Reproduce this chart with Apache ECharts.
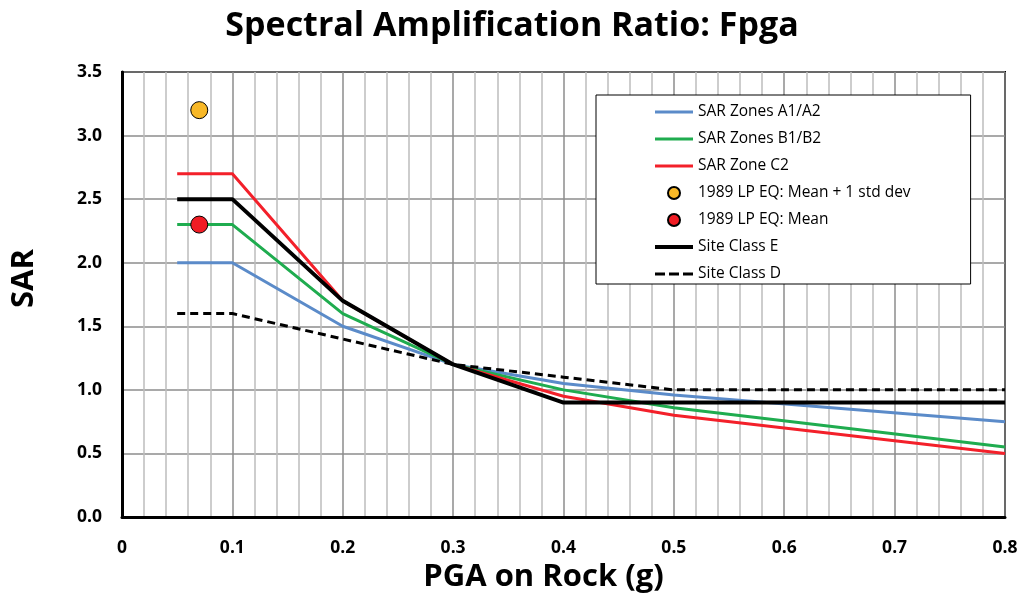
<!DOCTYPE html>
<html>
<head>
<meta charset="utf-8">
<script src="https://cdn.jsdelivr.net/npm/echarts@6/dist/echarts.min.js"></script>
<style>
  html, body { margin: 0; padding: 0; background: #fff; }
  #chart { width: 1024px; height: 609px; }
</style>
</head>
<body>
<div id="chart"></div>
<script>
// PGA on rock (g)
var pgaZones = [0.05, 0.1, 0.2, 0.3, 0.4, 0.5, 0.8];
var sarA = [2.0, 2.0, 1.5, 1.2, 1.05, 0.96, 0.75];
var sarB = [2.3, 2.3, 1.6, 1.2, 1.0, 0.86, 0.55];
var sarC = [2.7, 2.7, 1.7, 1.2, 0.95, 0.8, 0.5];

var pgaSite = [0.05, 0.1, 0.2, 0.3, 0.4, 0.5, 0.8];
var siteE = [2.5, 2.5, 1.7, 1.2, 0.9, 0.9, 0.9];
var siteD = [1.6, 1.6, 1.4, 1.2, 1.1, 1.0, 1.0];

// 1989 Loma Prieta points
var eqPga = [0.07];
var eqMeanStd = [3.2];
var eqMean = [2.3];

function pairs(xs, ys) {
    var out = [];
    for (var i = 0; i < xs.length; i++) {
        out.push([xs[i], ys[i]]);
    }
    return out;
}

// legend icons drawn as plain strokes (no marker on the line)
var solidIcon = 'path://M0,0h38v3h-38z';
var thickIcon = 'path://M0,0h38v4h-38z';
var dashIcon = 'path://M0,0h10v3h-10z M14,0h10v3h-10z M28,0h10v3h-10z';

var font = '"Open Sans", Lato, sans-serif';
var chart = echarts.init(document.getElementById('chart'));

chart.setOption({
    animation: false,
    textStyle: { fontFamily: font, color: '#000' },
    title: {
        text: 'Spectral Amplification Ratio: Fpga',
        left: 'center',
        top: 4,
        textStyle: { fontFamily: font, fontSize: 34, fontWeight: 'bold', color: '#000' }
    },
    grid: {
        left: 122, right: 19, top: 72, bottom: 92,
        show: true,
        borderColor: '#000',
        borderWidth: 2
    },
    legend: {
        orient: 'vertical',
        left: 596,
        top: 95,
        backgroundColor: '#fff',
        borderColor: '#000',
        borderWidth: 1,
        padding: [9, 60, 2, 59],
        itemWidth: 38,
        itemHeight: 12,
        itemGap: 11,
        textStyle: { fontFamily: font, fontSize: 15.5, lineHeight: 15, color: '#000' },
        data: [
            { name: 'SAR Zones A1/A2', icon: solidIcon },
            { name: 'SAR Zones B1/B2', icon: solidIcon },
            { name: 'SAR Zone C2', icon: solidIcon },
            { name: '1989 LP EQ: Mean + 1 std dev' },
            { name: '1989 LP EQ: Mean' },
            { name: 'Site Class E', icon: thickIcon },
            { name: 'Site Class D', icon: dashIcon }
        ]
    },
    xAxis: {
        type: 'value',
        min: 0,
        max: 0.8,
        interval: 0.1,
        name: 'PGA on Rock (g)',
        nameLocation: 'middle',
        nameGap: 34,
        nameTextStyle: {
            fontFamily: font, fontSize: 31, fontWeight: 'bold', color: '#000',
            padding: [0, 40, 0, 0]
        },
        axisLine: { lineStyle: { color: '#000', width: 3 } },
        axisTick: { show: false },
        axisLabel: {
            margin: 22,
            fontSize: 17.5,
            fontWeight: 'bold',
            color: '#000',
            formatter: function (v) { return v === 0 ? '0' : v.toFixed(1); }
        },
        splitLine: { show: true, lineStyle: { color: '#8c8c8c', width: 1.5 } },
        minorTick: { show: false, splitNumber: 5 },
        minorSplitLine: { show: true, lineStyle: { color: '#bdbdbd', width: 1.5 } }
    },
    yAxis: {
        type: 'value',
        min: 0,
        max: 3.5,
        interval: 0.5,
        name: 'SAR',
        nameLocation: 'middle',
        nameGap: 82,
        nameTextStyle: {
            fontFamily: font, fontSize: 31, fontWeight: 'bold', color: '#000',
            padding: [0, 0, 0, 32]
        },
        axisLine: { show: true, lineStyle: { color: '#000', width: 3 } },
        axisTick: { show: false },
        axisLabel: {
            margin: 20,
            fontSize: 17.5,
            fontWeight: 'bold',
            color: '#000',
            formatter: function (v) { return v.toFixed(1); }
        },
        splitLine: { show: true, lineStyle: { color: '#8c8c8c', width: 1.5 } }
    },
    series: [{
        name: 'SAR Zones A1/A2',
        type: 'line',
        data: pairs(pgaZones, sarA),
        symbol: 'none',
        color: '#5b8bc9',
        lineStyle: { color: '#5b8bc9', width: 3 }
    }, {
        name: 'SAR Zones B1/B2',
        type: 'line',
        data: pairs(pgaZones, sarB),
        symbol: 'none',
        color: '#1fac4f',
        lineStyle: { color: '#1fac4f', width: 3 }
    }, {
        name: 'SAR Zone C2',
        type: 'line',
        data: pairs(pgaZones, sarC),
        symbol: 'none',
        color: '#f3202a',
        lineStyle: { color: '#f3202a', width: 3 }
    }, {
        name: '1989 LP EQ: Mean + 1 std dev',
        type: 'scatter',
        data: pairs(eqPga, eqMeanStd),
        symbolSize: 17,
        z: 5,
        itemStyle: { color: '#f8b827', borderColor: '#000', borderWidth: 1, opacity: 1 }
    }, {
        name: '1989 LP EQ: Mean',
        type: 'scatter',
        data: pairs(eqPga, eqMean),
        symbolSize: 17,
        z: 5,
        itemStyle: { color: '#f01c24', borderColor: '#000', borderWidth: 1, opacity: 1 }
    }, {
        name: 'Site Class E',
        type: 'line',
        data: pairs(pgaSite, siteE),
        symbol: 'none',
        color: '#000',
        lineStyle: { color: '#000', width: 4 }
    }, {
        name: 'Site Class D',
        type: 'line',
        data: pairs(pgaSite, siteD),
        symbol: 'none',
        color: '#000',
        lineStyle: { color: '#000', width: 3, type: [8, 5] }
    }]
});
</script>
</body>
</html>
